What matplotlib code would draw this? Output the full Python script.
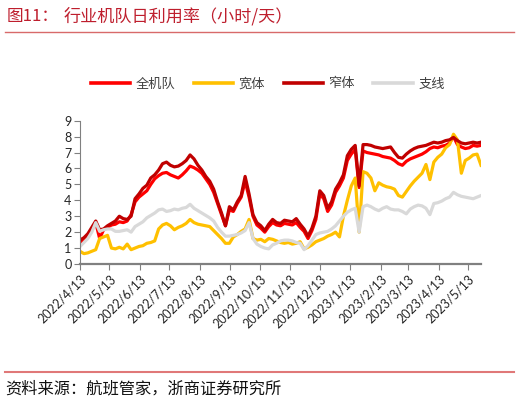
import numpy as np
import pandas as pd
import matplotlib
matplotlib.use("Agg")
import matplotlib.pyplot as plt
from matplotlib.lines import Line2D

plt.rcParams['font.family'] = ['Lato', 'Noto Sans CJK SC', 'DejaVu Sans']
cjk = ['Noto Sans CJK SC', 'DejaVu Sans']

# data, one value every 4 days from 2022/4/13
dates = pd.date_range('2022-04-13', periods=103, freq='4D')

quan_jidui = [1.3, 1.55, 1.8, 2.2, 2.6, 1.6, 2.15, 2.3, 2.45, 2.5,
              2.65, 2.6, 2.7, 3.1, 3.9, 4.2, 4.4, 4.6, 5.0, 5.35,
              5.55, 5.7, 5.75, 5.6, 5.5, 5.4, 5.6, 5.85, 6.15, 6.05,
              5.9, 5.7, 5.35, 5.0, 4.5, 3.8, 3.1, 2.4, 3.4, 3.3,
              3.8, 4.2, 5.2, 4.2, 3.0, 2.45, 2.25, 2.0, 2.35, 2.6,
              2.45, 2.4, 2.55, 2.5, 2.45, 2.6, 2.3, 2.05, 1.6, 2.1,
              2.8, 4.4, 4.1, 3.3, 3.7, 4.5, 4.9, 5.4, 6.5, 6.9,
              7.2, 4.8, 7.1, 7.0, 6.95, 6.9, 6.85, 6.75, 6.7, 6.65,
              6.5, 6.3, 6.2, 6.45, 6.6, 6.7, 6.8, 6.9, 7.05, 7.25,
              7.35, 7.3, 7.4, 7.45, 7.6, 8.0, 7.5, 7.35, 7.25, 7.3,
              7.45, 7.4, 7.45]

kuanti = [0.8, 0.65, 0.7, 0.8, 0.9, 1.6, 1.7, 1.8, 1.0, 0.95,
          1.05, 0.95, 1.25, 0.9, 1.0, 1.1, 1.15, 1.3, 1.35, 1.45,
          2.2, 2.45, 2.55, 2.4, 2.15, 2.3, 2.4, 2.55, 2.8, 2.6,
          2.5, 2.45, 2.4, 2.35, 2.1, 1.85, 1.6, 1.3, 1.3, 1.7,
          1.85, 2.05, 2.2, 2.8, 1.6, 1.5, 1.55, 1.4, 1.6, 1.55,
          1.45, 1.35, 1.3, 1.35, 1.25, 1.3, 1.4, 0.95, 1.05, 1.2,
          1.4, 1.5, 1.6, 1.75, 1.85, 2.0, 1.7, 3.0, 4.0, 4.9,
          5.4, 2.0, 5.8, 5.7, 5.4, 4.6, 5.1, 4.95, 4.85, 4.8,
          4.7, 4.3, 4.2, 4.55, 4.9, 5.2, 5.45, 5.7, 6.25, 5.3,
          6.4, 6.7, 6.9, 7.3, 7.5, 8.15, 7.8, 5.7, 6.5, 6.65,
          6.85, 6.9, 6.2]

zhaiti = [1.5, 1.65, 1.9, 2.3, 2.7, 2.15, 2.2, 2.4, 2.55, 2.7,
          3.0, 2.85, 2.8, 3.0, 4.1, 4.4, 4.75, 4.95, 5.4, 5.6,
          5.9, 6.3, 6.4, 6.2, 6.1, 6.15, 6.3, 6.5, 6.85, 6.6,
          6.2, 5.9, 5.5, 5.2, 4.7, 3.9, 3.2, 2.4, 3.6, 3.4,
          3.9, 4.3, 5.5, 4.4, 3.1, 2.6, 2.4, 2.1, 2.5, 2.8,
          2.6, 2.55, 2.75, 2.7, 2.65, 2.85, 2.5, 2.2, 1.75, 2.25,
          3.0, 4.6, 4.3, 3.5, 3.9, 4.7, 5.1, 5.6, 6.8, 7.2,
          7.45, 4.9, 7.5, 7.5, 7.45, 7.35, 7.3, 7.25, 7.3, 7.35,
          7.0, 6.7, 6.65, 6.9, 7.1, 7.25, 7.35, 7.4, 7.45, 7.55,
          7.65, 7.6, 7.65, 7.75, 7.8, 7.95, 7.75, 7.6, 7.55, 7.6,
          7.65, 7.6, 7.65]

zhixian = [1.1, 1.35, 1.6, 2.0, 2.6, 2.05, 2.15, 2.2, 2.2, 2.05,
           2.05, 2.1, 2.15, 2.0, 2.35, 2.5, 2.65, 2.9, 3.05, 3.2,
           3.4, 3.45, 3.3, 3.35, 3.45, 3.4, 3.5, 3.55, 3.75, 3.5,
           3.35, 3.2, 3.05, 2.9, 2.7, 2.3, 2.0, 1.75, 1.75, 1.8,
           1.85, 1.95, 2.1, 2.6, 1.6, 1.25, 1.1, 1.0, 0.95, 1.2,
           1.3, 1.45, 1.5, 1.5, 1.45, 1.35, 1.3, 0.9, 1.15, 1.5,
           1.85, 1.95, 2.0, 2.05, 2.2, 2.4, 2.7, 3.0, 3.25, 3.4,
           3.5, 2.0, 3.6, 3.7, 3.6, 3.45, 3.35, 3.5, 3.6, 3.45,
           3.4, 3.4, 3.3, 3.15, 3.45, 3.6, 3.7, 3.65, 3.5, 3.1,
           3.8, 3.85, 3.95, 4.1, 4.2, 4.5, 4.35, 4.25, 4.2, 4.15,
           4.1, 4.2, 4.3]

series_names = ['全机队', '宽体', '窄体', '支线']
series_colors = ['#FF0000', '#FFC000', '#C00000', '#D9D9D9']

tick_labels = ['2022/4/13', '2022/5/13', '2022/6/13', '2022/7/13', '2022/8/13',
               '2022/9/13', '2022/10/13', '2022/11/13', '2022/12/13', '2023/1/13',
               '2023/2/13', '2023/3/13', '2023/4/13', '2023/5/13']

fig = plt.figure(figsize=(5.2, 4.03), dpi=100)
ax = fig.add_axes([80/520, 1-264/403, 401/520, (264-120.7)/403])

for vals, name, c in zip([quan_jidui, kuanti, zhaiti, zhixian], series_names, series_colors):
    ax.plot(dates, vals, color=c, lw=2.3, label=name, solid_joinstyle='round')

ax.set_xlim(dates[0], dates[-1])
ax.set_ylim(0, 9)
ax.set_yticks(range(0, 10))
ax.set_xticks(pd.to_datetime(tick_labels, format='%Y/%m/%d'))
ax.set_xticklabels(tick_labels, rotation=45, ha='right', rotation_mode='anchor')

for s in ['top', 'right']:
    ax.spines[s].set_visible(False)
ax.spines['left'].set_color('#808080')
ax.spines['left'].set_linewidth(0.8)
ax.spines['bottom'].set_color('#808080')
ax.spines['bottom'].set_linewidth(1.6)
ax.tick_params(direction='out', length=4, color='#808080', labelsize=9,
               labelcolor='#262626', pad=2)

# legend on top
leg = fig.legend(loc='center', bbox_to_anchor=(0.515, 1-84/403), ncol=4, frameon=False,
                 handlelength=3.0, handletextpad=0.4, columnspacing=1.4,
                 prop={'family': cjk, 'size': 9.5})
for t in leg.get_texts():
    t.set_color('#404040')
for h in leg.get_lines():
    h.set_linewidth(2.6)

# title and footer
title_red = '#BE1E2D'
fig.text(7/520, 1-16/403, '图11：', color=title_red, fontsize=12, family=cjk, va='center')
fig.text(64/520, 1-16/403, '行业机队日利用率（小时/天）', color=title_red, fontsize=12.3,
         family=cjk, va='center')
fig.add_artist(Line2D([5/520, 514/520], [1-31.7/403]*2, color='#D86A6A', lw=1.0))
fig.add_artist(Line2D([5/520, 514/520], [1-371.7/403]*2, color='#E07878', lw=1.5))
fig.text(5/520, 1-389/403, '资料来源：航班管家，浙商证券研究所', color='#111111',
         fontsize=11.7, family=cjk, va='center')

fig.savefig('out.png', dpi=100)
